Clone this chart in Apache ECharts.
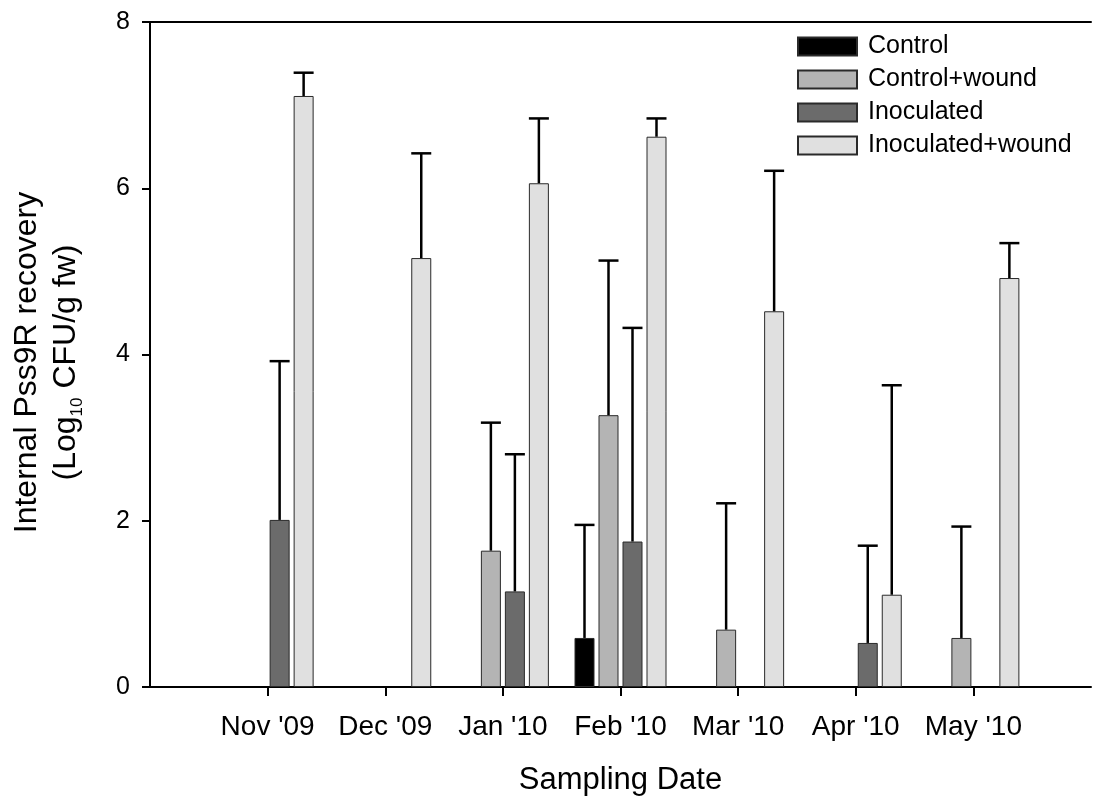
<!DOCTYPE html>
<html>
<head>
<meta charset="utf-8">
<script src="https://cdn.jsdelivr.net/npm/echarts@6/dist/echarts.min.js"></script>
<style>
  html, body { margin: 0; padding: 0; background: #fff; }
  #main { width: 1094px; height: 804px; }
</style>
</head>
<body>
<div id="main"></div>
<script>
// sampling dates
var months = ["Nov '09", "Dec '09", "Jan '10", "Feb '10", "Mar '10", "Apr '10", "May '10"];
// mean recovery, log10 CFU/g fw (null = no bar)
var control      = [null, null, null, 0.59, null, null, null];
var controlWound = [null, null, 1.64, 3.27, 0.69, null, 0.59];
var inoculated   = [2.01, null, 1.15, 1.75, null, 0.53, null];
var inocWound    = [7.11, 5.16, 6.06, 6.62, 4.52, 1.11, 4.92];
// upper error (SE)
var controlErr      = [null, null, null, 1.36, null, null, null];
var controlWoundErr = [null, null, 1.54, 1.86, 1.52, null, 1.34];
var inoculatedErr   = [1.91, null, 1.65, 2.57, null, 1.17, null];
var inocWoundErr    = [0.28, 1.26, 0.78, 0.22, 1.69, 2.52, 0.42];
var yTicks = [0, 2, 4, 6, 8];

var names = ["Control", "Control+wound", "Inoculated", "Inoculated+wound"];
var colors = ["#000000", "#b4b4b4", "#6b6b6b", "#e0e0e0"];
var means = [control, controlWound, inoculated, inocWound];
var errs = [controlErr, controlWoundErr, inoculatedErr, inocWoundErr];
var offsets = [-36, -12, 12, 36];

var cats = [""].concat(months).concat([""]);
function pad(a) { return [null].concat(a).concat([null]); }

var font = "'Liberation Sans', Arial, sans-serif";
var chart = echarts.init(document.getElementById("main"));

var series = [];
means.forEach(function (m, i) {
  series.push({
    name: names[i],
    type: "bar",
    data: pad(m),
    barWidth: 20,
    barGap: "20%",
    itemStyle: { color: colors[i], borderColor: "#2a2a2a", borderWidth: 1 },
    silent: true
  });
});
means.forEach(function (m, i) {
  var d = [];
  m.forEach(function (v, k) {
    if (v != null && errs[i][k] != null) d.push([k + 1, v, errs[i][k]]);
  });
  series.push({
    type: "custom",
    silent: true,
    data: d,
    z: 3,
    renderItem: function (params, api) {
      var c = api.value(0);
      var base = api.coord([c, api.value(1)]);
      var top = api.coord([c, api.value(1) + api.value(2)]);
      var x = base[0] + offsets[i];
      var st = { stroke: "#000", lineWidth: 2.5 };
      return {
        type: "group",
        children: [
          { type: "line", shape: { x1: x, y1: base[1], x2: x, y2: top[1] }, style: st },
          { type: "line", shape: { x1: x - 10, y1: top[1], x2: x + 10, y2: top[1] }, style: st }
        ]
      };
    }
  });
});

var option = {
  animation: false,
  textStyle: { fontFamily: font },
  grid: { left: 150, top: 22, width: 947, height: 665 },
  legend: {
    data: names,
    orient: "vertical",
    left: 797,
    top: 34,
    padding: 0,
    itemWidth: 59,
    itemHeight: 18,
    itemGap: 8,
    icon: "rect",
    textStyle: { fontSize: 25, color: "#000", fontFamily: font, lineHeight: 25, padding: [0, 0, 0, 6] }
  },
  xAxis: [
    {
      type: "category",
      data: cats,
      boundaryGap: false,
      axisLine: { lineStyle: { color: "#000", width: 2 } },
      axisTick: {
        length: 9,
        lineStyle: { width: 2, color: "#000" },
        interval: function (idx) { return idx > 0 && idx < cats.length - 1; }
      },
      axisLabel: { interval: 0, fontSize: 28, color: "#000", margin: 26, fontFamily: font },
      name: "Sampling Date",
      nameLocation: "middle",
      nameGap: 78,
      nameTextStyle: { fontSize: 31, color: "#000", fontFamily: font },
      splitLine: { show: false }
    },
    {
      type: "category",
      data: cats,
      boundaryGap: false,
      position: "top",
      axisLine: { lineStyle: { color: "#000", width: 2 } },
      axisTick: { show: false },
      axisLabel: { show: false },
      splitLine: { show: false }
    }
  ],
  yAxis: {
    type: "value",
    min: yTicks[0],
    max: yTicks[yTicks.length - 1],
    interval: 2,
    axisLine: { show: true, lineStyle: { color: "#000", width: 2 } },
    axisTick: { show: true, length: 8, lineStyle: { width: 2, color: "#000" } },
    axisLabel: { fontSize: 25, color: "#000", margin: 20, fontFamily: font },
    splitLine: { show: false },
    name: "Internal Pss9R recovery\n(Log{sub|10} CFU/g fw)",
    nameLocation: "middle",
    nameGap: 64,
    nameTextStyle: {
      fontSize: 32,
      color: "#000",
      fontFamily: font,
      lineHeight: 39,
      padding: [0, 16, 0, 0],
      rich: {
        sub: { fontSize: 17, verticalAlign: "bottom", padding: [12, 0, 0, 0], fontFamily: font, color: "#000" }
      }
    }
  },
  series: series
};

option && chart.setOption(option);
</script>
</body>
</html>
